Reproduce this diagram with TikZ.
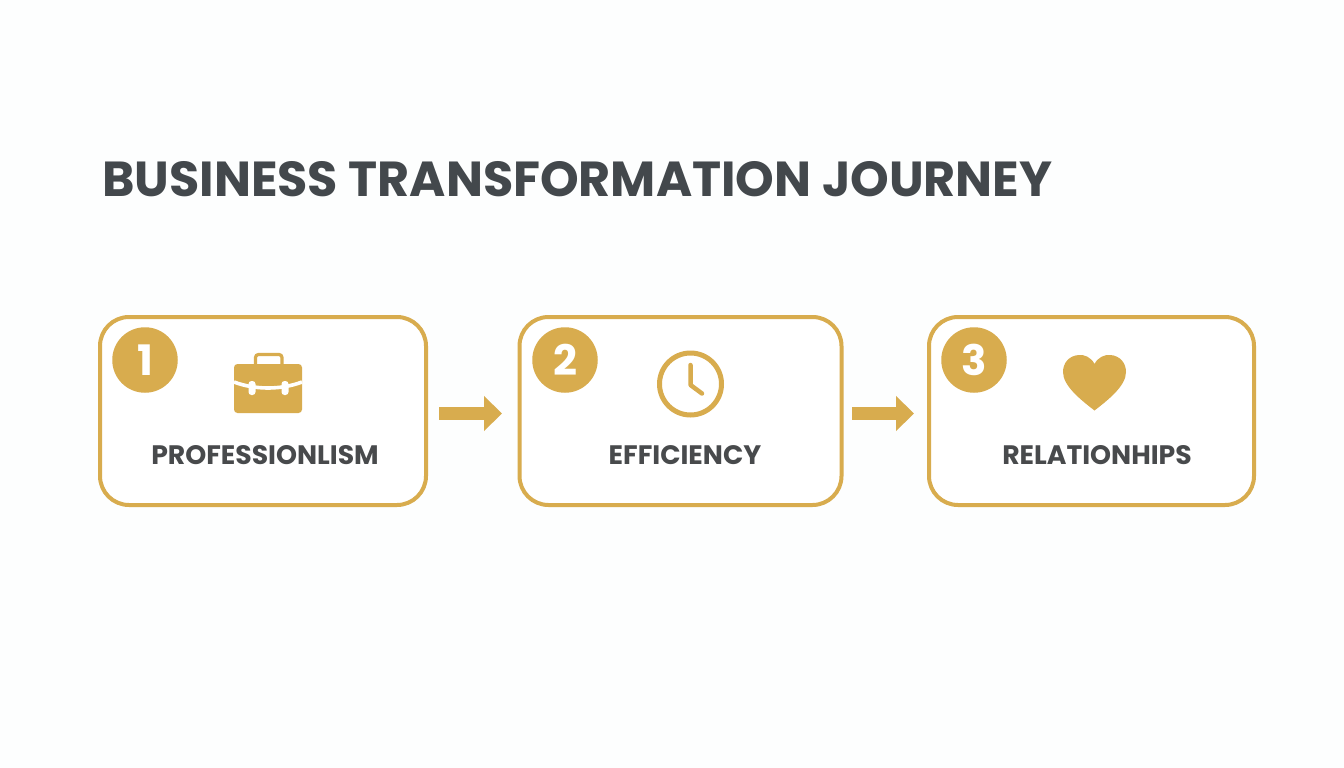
\documentclass[tikz,border=0pt]{standalone}
\usepackage{fontspec}
\setmainfont{Poppins}
\usetikzlibrary{arrows.meta}
\definecolor{gold}{HTML}{D8AC4E}
\definecolor{titleink}{HTML}{43484C}
\definecolor{labelink}{HTML}{484A4C}
\definecolor{paper}{HTML}{FDFEFE}
\tikzset{
  x=1pt,y=-1pt,
  card/.style={draw=gold,line width=4pt,rounded corners=29pt,fill=white,minimum height=188pt,inner sep=0pt,anchor=center},
  badge/.style={circle,fill=gold,text=white,minimum size=65.5pt,inner sep=0pt,font=\bfseries\fontsize{42}{42}\selectfont},
  cardlabel/.style={text=labelink,inner sep=0pt,anchor=base,font=\bfseries\fontsize{26.7}{26.7}\selectfont},
  flow/.style={draw=gold,line width=13pt,-{Triangle[length=18pt,width=34pt]}},
}
\begin{document}
\begin{tikzpicture}
\useasboundingbox[fill=paper] (0,0) rectangle (1344,768);
\node[inner sep=0pt,anchor=base west,text=titleink,font=\bfseries\fontsize{49.2}{49.2}\selectfont] (title) at (102,196) {BUSINESS TRANSFORMATION JOURNEY};

\node[card,minimum width=326pt] (c1) at (263,411) {};
\node[card,minimum width=322pt] (c2) at (680.5,411) {};
\node[card,minimum width=325pt] (c3) at (1091.5,411) {};

\node[badge] (b1) at (145,360) {1};
\node[badge] (b2) at (565,360) {2};
\node[badge] (b3) at (974,360) {3};

\node[cardlabel] (l1) at (265,464) {PROFESSIONLISM};
\node[cardlabel] (l2) at (685,464) {EFFICIENCY};
\node[cardlabel] (l3) at (1097,464) {RELATIONHIPS};

\draw[flow] ([xshift=11pt,yshift=-2.5pt]c1.east) -- ([xshift=-15.5pt,yshift=-2.5pt]c2.west);
\draw[flow] ([xshift=8.5pt,yshift=-2.5pt]c2.east) -- ([xshift=-13pt,yshift=-2.5pt]c3.west);

% briefcase
\draw[gold,line width=3.2pt,rounded corners=3pt] (255.5,366) -- (255.5,354.5) -- (282,354.5) -- (282,366);
\fill[gold,rounded corners=3.5pt] (234,364) rectangle (302,413);
\draw[white,line width=3.6pt] (234,382) .. controls (255,390) and (281,390) .. (302,382);
\fill[white,rounded corners=3pt] (248.5,381) rectangle (255.5,395);
\fill[white,rounded corners=3pt] (281.5,381) rectangle (288.5,395);

% clock
\draw[gold,line width=5pt] (690.5,384) circle (31);
\draw[gold,line width=4.5pt,line cap=round,line join=round] (690.5,365) -- (690.5,385) -- (702,393.5);

% heart
\fill[gold] (1094.5,364)
  .. controls (1098,357) and (1105,354.5) .. (1110,355)
  .. controls (1120,355.5) and (1126,363) .. (1126,372)
  .. controls (1126,386) and (1108,400) .. (1094.5,410.5)
  .. controls (1081,400) and (1063,386) .. (1063,372)
  .. controls (1063,363) and (1069,355.5) .. (1079,355)
  .. controls (1084,354.5) and (1091,357) .. (1094.5,364) -- cycle;
\end{tikzpicture}
\end{document}
